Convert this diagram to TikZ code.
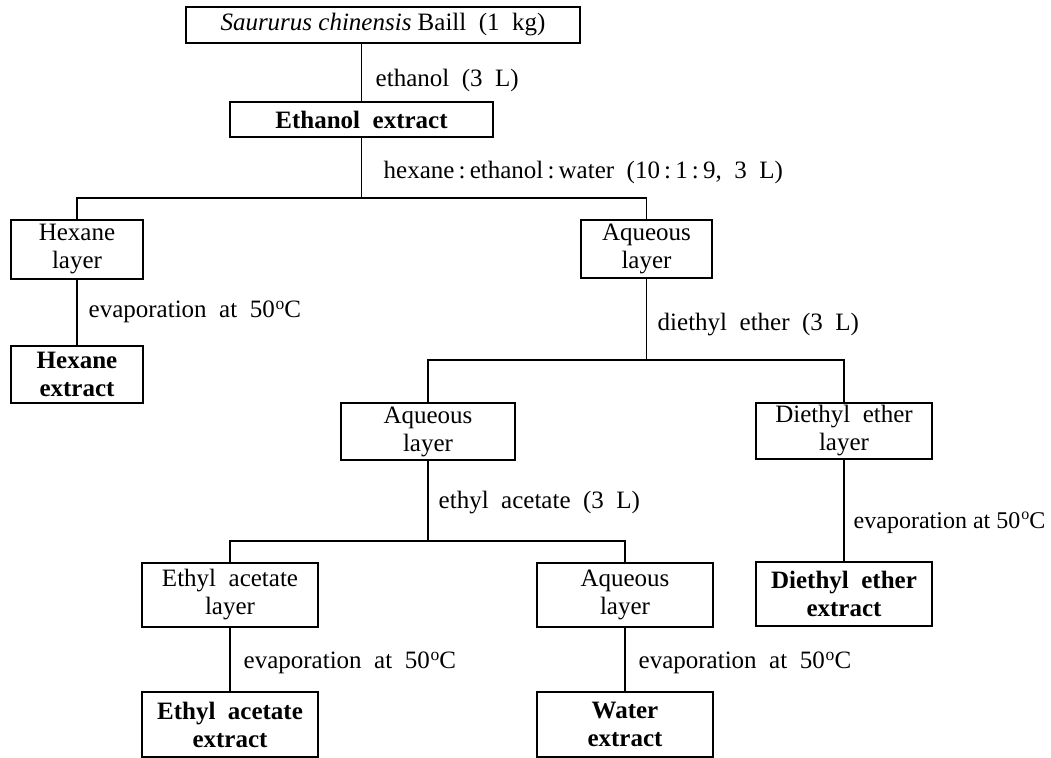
\documentclass[tikz,border=0pt]{standalone}
\usepackage{fontspec}
\setmainfont{Liberation Serif}
\newcommand{\degc}{\kern0.5pt\textsuperscript{o}\kern-0.5ptC}
\begin{document}
\begin{tikzpicture}[x=0.5pt,y=-0.5pt,line width=0.7pt,
	font=\fontsize{12.5}{14}\selectfont,
	box/.style={draw,inner sep=0pt,align=center},
	note/.style={anchor=west,inner sep=0pt}]

\useasboundingbox (0,0) rectangle (1051,758);

% boxes
\node[box,minimum width=197pt,minimum height=18pt] (src) at (383,25) {\textit{Saururus chinensis} Baill~ (1~ kg)};
\node[box,minimum width=131.5pt,minimum height=17.5pt] (eth) at (361.5,119.5) {\textbf{Ethanol~ extract}};
\node[box,minimum width=66pt,minimum height=29.5pt] (hexl) at (77,249.5) {Hexane\\layer};
\node[box,minimum width=65.5pt,minimum height=29pt] (aqa) at (646.5,249) {Aqueous\\layer};
\node[box,minimum width=66pt,minimum height=28.5pt] (hexe) at (77,374.5) {\textbf{Hexane}\\\textbf{extract}};
\node[box,minimum width=87pt,minimum height=28.5pt] (aqb) at (428,431.5) {Aqueous\\layer};
\node[box,minimum width=88pt,minimum height=28pt] (del) at (844,431) {Diethyl~ ether\\layer};
\node[box,minimum width=88pt,minimum height=32pt] (dee) at (844,594) {\textbf{Diethyl~ ether}\\\textbf{extract}};
\node[box,minimum width=88pt,minimum height=32pt] (eal) at (230,595) {Ethyl~ acetate\\layer};
\node[box,minimum width=88pt,minimum height=32pt] (aqc) at (625,595) {Aqueous\\layer};
\node[box,minimum width=88pt,minimum height=32.5pt] (eae) at (230,724.5) {\textbf{Ethyl~ acetate}\\\textbf{extract}};
\node[box,minimum width=88pt,minimum height=32.5pt] (wate) at (625,724.5) {\textbf{Water}\\\textbf{extract}};

% junctions
\coordinate (ja) at (361.5,198);
\coordinate (jb) at (646.5,360);
\coordinate (jc) at (428,541);

% connectors
\draw (eth.north) -- (eth.north |- src.south);
\draw (eth.south) -- (ja);
\draw (hexl.north) |- (ja) -| (aqa.north);
\draw (aqa.south) -- (jb);
\draw (aqb.north) |- (jb) -| (del.north);
\draw (aqb.south) -- (jc);
\draw (eal.north) |- (jc) -| (aqc.north);
\draw (hexl) -- (hexe);
\draw (del) -- (dee);
\draw (eal) -- (eae);
\draw (aqc) -- (wate);

% labels
\node[note] (la) at (375,80) {ethanol~ (3~ L)};
\node[note] (lb) at (383,172) {hexane\,:\,ethanol\,:\,water~ (10\,:\,1\,:\,9,~ 3~ L)};
\node[note] (lc) at (88,312) {evaporation~ at~ 50\degc};
\node[note] (ld) at (657,325) {diethyl~ ether~ (3~ L)};
\node[note] (le) at (438,503) {ethyl~ acetate~ (3~ L)};
\node[note,font=\fontsize{12}{14}\selectfont] (lf) at (853,523) {evaporation at 50\degc};
\node[note] (lg) at (243,663) {evaporation~ at~ 50\degc};
\node[note] (lh) at (638,663) {evaporation~ at~ 50\degc};

\end{tikzpicture}
\end{document}
